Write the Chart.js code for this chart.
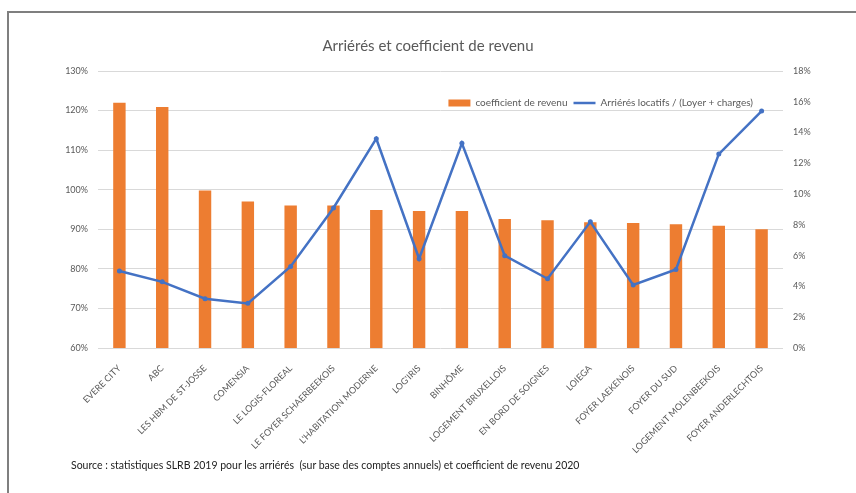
<!DOCTYPE html>
<html><head><meta charset="utf-8">
<script src="https://cdn.jsdelivr.net/npm/chart.js@4"></script>
<style>
html,body{margin:0;padding:0;background:#fff;overflow:hidden}
#wrap{position:relative;width:856px;height:493px}
#frame{position:absolute;left:7px;top:11px;width:900px;height:600px;border-left:2px solid #7f7f7f;border-top:2px solid #7f7f7f}
#c{position:absolute;left:0;top:0}
#src{position:absolute;left:71px;top:459px;font:10.5px Lato, sans-serif;color:#222;white-space:pre}
</style></head><body>
<div id="wrap"><div id="frame"></div><canvas id="c" width="856" height="493"></canvas>
<div id="src">Source : statistiques SLRB 2019 pour les arriérés  (sur base des comptes annuels) et coefficient de revenu 2020</div></div>
<script>
const categories = ["EVERE CITY","ABC","LES HBM DE ST-JOSSE","COMENSIA","LE LOGIS-FLOREAL","LE FOYER SCHAERBEEKOIS","L'HABITATION MODERNE","LOG'IRIS","BINHÔME","LOGEMENT BRUXELLOIS","EN BORD DE SOIGNES","LOIEGA","FOYER LAEKENOIS","FOYER DU SUD","LOGEMENT MOLENBEEKOIS","FOYER ANDERLECHTOIS"];
const coefficientRevenu = [122.0, 120.9, 99.8, 97.0, 96.0, 96.0, 94.9, 94.6, 94.6, 92.6, 92.3, 91.8, 91.6, 91.3, 90.9, 90.0];
const arrieresLocatifs = [5.0, 4.3, 3.2, 2.9, 5.3, 9.1, 13.6, 5.8, 13.3, 6.0, 4.5, 8.2, 4.1, 5.1, 12.6, 15.4];
const seriesLabels = ["coefficient de revenu", "Arriérés locatifs / (Loyer + charges)"];
const leftAxisRange = [60, 130, 10];
const rightAxisRange = [0, 18, 2];
const chartTitle = "Arriérés et coefficient de revenu";

const FONT = "Lato";
const GREY = "#595959";

const legendMover = {
  id: 'legendMover',
  afterLayout(chart) {
    const lg = chart.legend;
    if (!lg) return;
    const pad = lg.options.labels.padding;
    lg.top = 103 - pad - 5;
    lg.bottom = lg.top + 24;
    lg.height = 24;
    lg.right = 753 + pad;
    lg.left = 300;
    lg.width = lg.right - lg.left;
  }
};

new Chart(document.getElementById('c'), {
  type: 'bar',
  data: {
    labels: categories,
    datasets: [
      {
        label: seriesLabels[0],
        data: coefficientRevenu,
        backgroundColor: '#ED7D31',
        borderWidth: 0,
        yAxisID: 'y',
        order: 1,
        categoryPercentage: 1,
        barPercentage: 0.29
      },
      {
        type: 'line',
        label: seriesLabels[1],
        data: arrieresLocatifs,
        borderColor: '#4472C4',
        backgroundColor: '#4472C4',
        borderWidth: 2.5,
        pointRadius: 2.5,
        pointBackgroundColor: '#4472C4',
        pointBorderWidth: 0,
        tension: 0,
        yAxisID: 'y1',
        order: 0
      }
    ]
  },
  options: {
    responsive: false,
    animation: false,
    devicePixelRatio: 1,
    layout: { padding: 0 },
    plugins: {
      title: {
        display: true,
        text: chartTitle,
        color: GREY,
        font: { family: FONT, size: 15, weight: 'normal' },
        padding: { top: 37, bottom: 15 }
      },
      legend: {
        display: true,
        position: 'top',
        align: 'end',
        maxHeight: 1,
        labels: {
          color: GREY,
          font: { family: FONT, size: 10 },
          usePointStyle: true,
          pointStyleWidth: 22,
          boxHeight: 7,
          padding: 6,
          sort: (a, b) => a.datasetIndex - b.datasetIndex,
          generateLabels(chart) {
            const items = Chart.defaults.plugins.legend.labels.generateLabels(chart);
            items.forEach(it => {
              if (it.datasetIndex === 0) { it.pointStyle = 'rect'; it.lineWidth = 0; }
              else { it.pointStyle = 'line'; it.lineWidth = 2.5; it.strokeStyle = '#4472C4'; }
            });
            return items;
          }
        }
      },
      tooltip: { enabled: false }
    },
    scales: {
      x: {
        offset: true,
        grid: { display: false },
        border: { display: false },
        ticks: {
          autoSkip: false,
          minRotation: 45,
          maxRotation: 45,
          padding: 7,
          color: GREY,
          font: { family: FONT, size: 9 }
        },
        afterFit(scale) { scale.height = 145; }
      },
      y: {
        position: 'left',
        min: leftAxisRange[0],
        max: leftAxisRange[1],
        grid: { color: '#d9d9d9', lineWidth: 1, drawTicks: false },
        border: { display: false },
        ticks: {
          stepSize: leftAxisRange[2],
          padding: 10,
          color: GREY,
          font: { family: FONT, size: 9 },
          callback: v => v + '%'
        },
        afterFit(scale) { scale.width = 98; }
      },
      y1: {
        position: 'right',
        min: rightAxisRange[0],
        max: rightAxisRange[1],
        grid: { display: false, drawTicks: false },
        border: { display: false },
        ticks: {
          stepSize: rightAxisRange[2],
          padding: 10,
          color: GREY,
          font: { family: FONT, size: 9 },
          callback: v => v + '%'
        },
        afterFit(scale) { scale.width = 73; }
      }
    }
  },
  plugins: [legendMover]
});
</script>
</body></html>
